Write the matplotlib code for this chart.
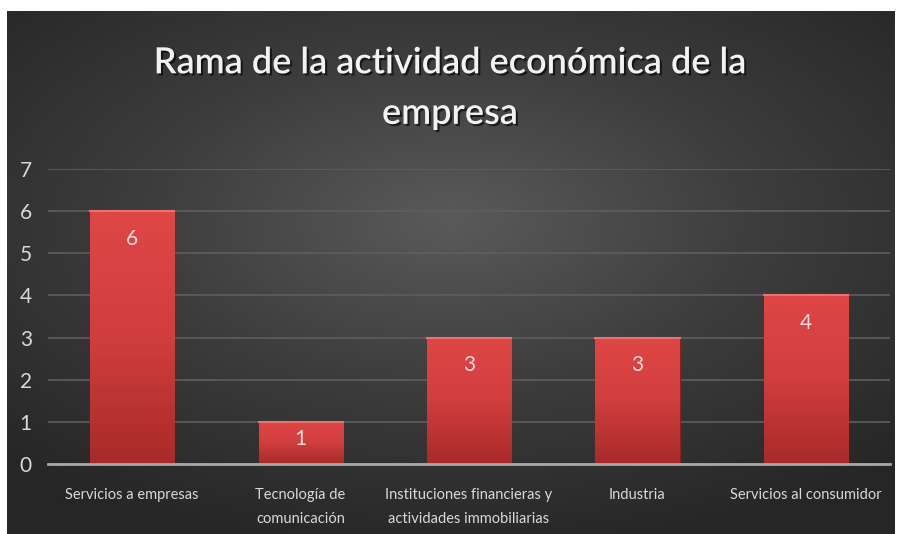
import numpy as np
import matplotlib.pyplot as plt
import matplotlib.patheffects as pe
from matplotlib.colors import LinearSegmentedColormap

categories = ["Servicios a empresas", "Tecnología de\ncomunicación",
              "Instituciones financieras y\nactividades immobiliarias",
              "Industria", "Servicios al consumidor"]
values = [6, 1, 3, 3, 4]
yticks = [0, 1, 2, 3, 4, 5, 6, 7]
title = "Rama de la actividad económica de la\nempresa"

plt.rcParams['font.family'] = ['Lato', 'DejaVu Sans']

fig = plt.figure(figsize=(9, 5.34), dpi=100)
fig.patch.set_facecolor('white')

# dark panel with radial gradient
bg = fig.add_axes([7/900, 0, 888/900, 523/534])
bg.set_axis_off()
yy, xx = np.mgrid[-1:1:300j, -1:1:500j]
r = np.sqrt((xx * 0.9) ** 2 + ((yy + 0.2) * 1.0) ** 2)
bg_cmap = LinearSegmentedColormap.from_list('bg', ['#5a5a5a', '#3c3c3c', '#262626'])
bg.imshow(r, cmap=bg_cmap, aspect='auto', extent=[0, 1, 0, 1], vmin=0, vmax=1.3)
bg.set_xlim(0, 1)
bg.set_ylim(0, 1)

ax = fig.add_axes([48/900, (534-464)/534, 842/900, (464-169)/534])
ax.patch.set_alpha(0)
x = np.arange(len(categories))
bars = ax.bar(x, values, width=0.5, color='#c83a3a', zorder=3)

# vertical red gradient inside each bar
grad = np.linspace(1, 0, 256).reshape(-1, 1)
bar_cmap = LinearSegmentedColormap.from_list('bar', ['#a82a2a', '#d03e3e', '#e04646'])
for b in bars:
    bx, by = b.get_x(), b.get_y()
    w, h = b.get_width(), b.get_height()
    im = ax.imshow(grad, cmap=bar_cmap, aspect='auto',
                   extent=[bx, bx + w, by, by + h], zorder=3)
    im.set_clip_path(b)
    b.set_facecolor('none')
    b.set_edgecolor('#8a2020')
    b.set_linewidth(0.8)
    ax.plot([bx, bx + w], [by + h, by + h], color='#ee7070', lw=1.5, zorder=4)

for xi, v in zip(x, values):
    ax.text(xi, v - min(0.65, v * 0.4), str(v), ha='center', va='center',
            color='#f0dcdc', fontsize=15, zorder=5)

ax.set_xlim(-0.5, len(categories) - 0.5)
ax.set_ylim(0, 7)
ax.set_yticks(yticks)
ax.yaxis.grid(True, color='#5e5e5e', lw=1.2, zorder=0)
ax.set_axisbelow(True)
for s in ['top', 'right', 'left']:
    ax.spines[s].set_visible(False)
ax.spines['bottom'].set_color('#a8a8a8')
ax.spines['bottom'].set_linewidth(2)
ax.spines['bottom'].set_zorder(6)
ax.tick_params(axis='both', length=0)
ax.tick_params(axis='y', colors='#d9d9d9', labelsize=15, pad=16)
for lbl in ax.get_yticklabels():
    lbl.set_horizontalalignment('center')
ax.set_xticks(x)
ax.set_xticklabels(categories, fontsize=10.5, color='#d9d9d9', linespacing=1.9)
ax.tick_params(axis='x', pad=17)

fig.text(0.5, 0.835, title, ha='center', va='center', color='#f2f2f2',
         fontsize=26, fontweight='semibold', linespacing=1.65,
         path_effects=[pe.withSimplePatchShadow(offset=(1.5, -1.5),
                                                shadow_rgbFace='black', alpha=0.6)])

fig.savefig('out.png', dpi=100, facecolor=fig.get_facecolor())
